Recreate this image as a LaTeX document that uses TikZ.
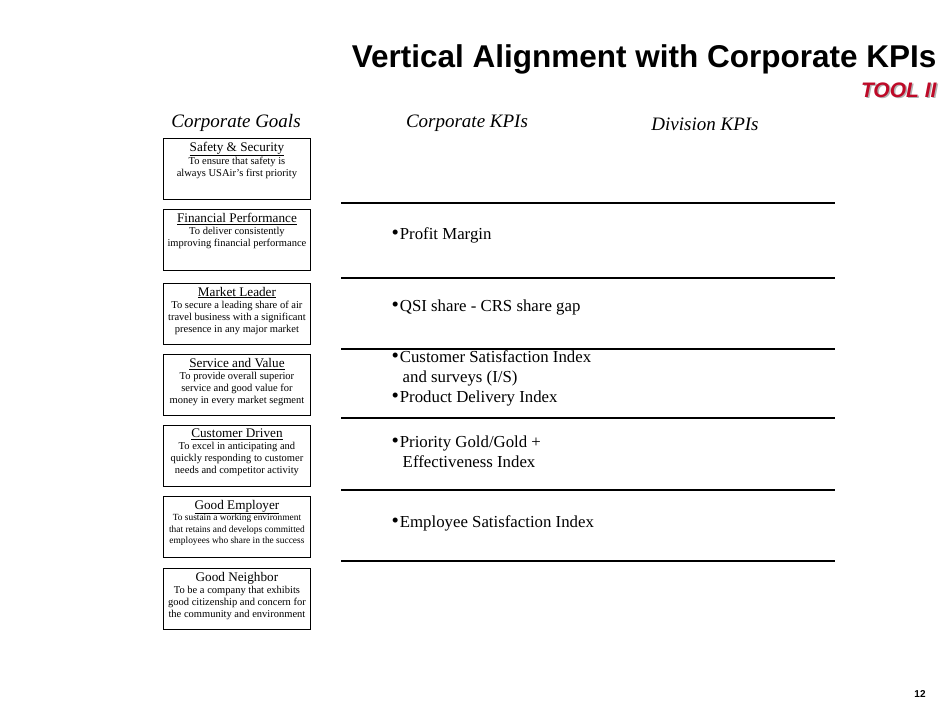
\documentclass[tikz,border=0pt]{standalone}
\usepackage{fontspec}
\setmainfont{Liberation Serif}
\newfontfamily\titlefont{Liberation Sans}
\usetikzlibrary{positioning}
\definecolor{toolred}{RGB}{190,10,40}
\newcommand{\kbul}{{\fontsize{21}{20}\selectfont•}\kern1pt}

\begin{document}
\begin{tikzpicture}[x=1pt, y=-1pt,
    goal/.style={rectangle, draw=black, line width=0.9pt, minimum width=147pt, minimum height=61pt,
        inner sep=1pt, anchor=north west, align=center, font=\fontsize{10.5}{12}\selectfont},
    kpi/.style={anchor=west, align=left, font=\fontsize{16.8}{20}\selectfont},
    head/.style={font=\fontsize{19}{22}\selectfont\itshape},
    rule/.style={line width=1.1pt}
]
\useasboundingbox (0,0) rectangle (950,713);

\node [anchor=east, font=\titlefont\bfseries\fontsize{31.5}{36}\selectfont] (Title) at (940,59) {Vertical Alignment with Corporate KPIs};
\node [anchor=east, text=gray!60, font=\titlefont\bfseries\itshape\fontsize{21}{24}\selectfont] at (941.5,91.5) {TOOL II};
\node [anchor=east, text=toolred, font=\titlefont\bfseries\itshape\fontsize{21}{24}\selectfont] (Tool) at (940,90) {TOOL II};

\node [head] (HeadGoals) at (236,123) {Corporate Goals};
\node [head] (HeadCorp) at (467,123) {Corporate KPIs};
\node [head] (HeadDiv) at (705,124) {Division KPIs};

% corporate goals
\node [goal] (Safety) at (163,138) {\vbox to 57pt{\vskip1.5pt\hbox to 143pt{\hfil\fontsize{13.2}{14}\selectfont\underline{Safety \& Security}\hfil}\hbox to 143pt{\hfil To ensure that safety is\hfil}\hbox to 143pt{\hfil always USAir’s first priority\hfil}\vfil}};
\node [goal] (Financial) at (163,209) {\vbox to 57pt{\vskip1.5pt\hbox to 143pt{\hfil\fontsize{13.2}{14}\selectfont\underline{Financial Performance}\hfil}\hbox to 143pt{\hfil To deliver consistently\hfil}\hbox to 143pt{\hfil improving financial performance\hfil}\vfil}};
\node [goal] (Market) at (163,283) {\vbox to 57pt{\vskip1.5pt\hbox to 143pt{\hfil\fontsize{13.2}{14}\selectfont\underline{Market Leader}\hfil}\hbox to 143pt{\hfil To secure a leading share of air\hfil}\hbox to 143pt{\hfil travel business with a significant\hfil}\hbox to 143pt{\hfil presence in any major market\hfil}\vfil}};
\node [goal] (Service) at (163,354) {\vbox to 57pt{\vskip1.5pt\hbox to 143pt{\hfil\fontsize{13.2}{14}\selectfont\underline{Service and Value}\hfil}\hbox to 143pt{\hfil To provide overall superior\hfil}\hbox to 143pt{\hfil service and good value for\hfil}\hbox to 143pt{\hfil money in every market segment\hfil}\vfil}};
\node [goal] (Customer) at (163,425) {\vbox to 57pt{\vskip1.5pt\hbox to 143pt{\hfil\fontsize{13.2}{14}\selectfont\underline{Customer Driven}\hfil}\hbox to 143pt{\hfil To excel in anticipating and\hfil}\hbox to 143pt{\hfil quickly responding to customer\hfil}\hbox to 143pt{\hfil needs and competitor activity\hfil}\vfil}};
\node [goal] (Employer) at (163,496) {\vbox to 57pt{\vskip1.5pt\hbox to 143pt{\hfil\fontsize{13.2}{14}\selectfont\underline{Good Employer}\hfil}\fontsize{9.4}{11.5}\selectfont\hbox to 143pt{\hfil To sustain a working environment\hfil}\hbox to 143pt{\hfil that retains and develops committed\hfil}\hbox to 143pt{\hfil employees who share in the success\hfil}\vfil}};
\node [goal] (Neighbor) at (163,568) {\vbox to 57pt{\vskip1.5pt\hbox to 143pt{\hfil\fontsize{13.2}{14}\selectfont Good Neighbor\hfil}\hbox to 143pt{\hfil To be a company that exhibits\hfil}\hbox to 143pt{\hfil good citizenship and concern for\hfil}\hbox to 143pt{\hfil the community and environment\hfil}\vfil}};

% rules
\foreach \y in {203,278,349,418,490,561}
    \draw [rule] (341,\y) -- (835,\y);

% corporate KPIs
\node [kpi] (Profit) at (388,235) {\kbul Profit Margin};
\node [kpi] (QSI) at (388,307) {\kbul QSI share - CRS share gap};
\node [kpi] (CSI) at (388,378) {\kbul Customer Satisfaction Index\\\ \ \,and surveys (I/S)\\\kbul Product Delivery Index};
\node [kpi] (Gold) at (388,452) {\kbul Priority Gold/Gold +\\\ \ \,Effectiveness Index};
\node [kpi] (ESI) at (388,523) {\kbul Employee Satisfaction Index};

\node [font=\titlefont\bfseries\fontsize{10}{11}\selectfont] (Page) at (920,694) {12};
\end{tikzpicture}
\end{document}
